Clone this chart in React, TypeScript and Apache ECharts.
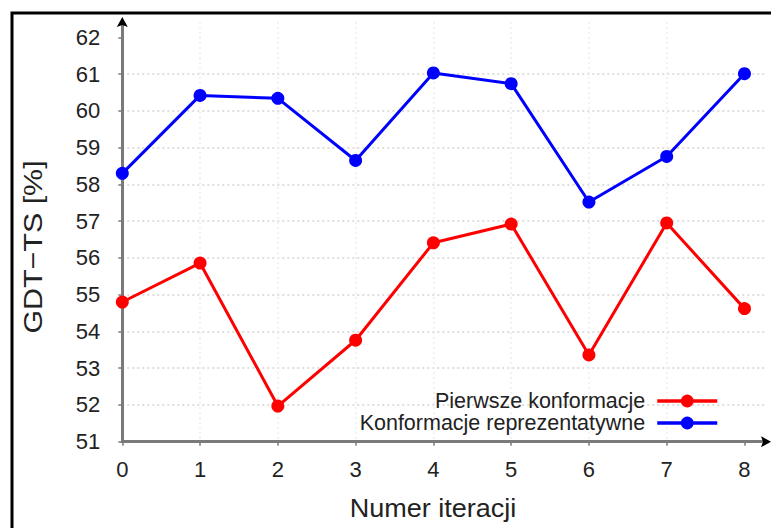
import React, { useEffect, useRef } from "react";
import * as echarts from "echarts";

const xTicks = [0, 1, 2, 3, 4, 5, 6, 7, 8];
const yTicks = [51, 52, 53, 54, 55, 56, 57, 58, 59, 60, 61, 62];
const seriesNames = ["Pierwsze konformacje", "Konformacje reprezentatywne"];
const pierwsze = [54.8, 55.86, 51.97, 53.76, 56.41, 56.92, 53.36, 56.95, 54.62];
const reprezentatywne = [58.3, 60.42, 60.34, 58.65, 61.03, 60.74, 57.52, 58.76, 61.01];
const xTitle = "Numer iteracji";
const yTitle = "GDT\u2212TS [%]";

const FONT = "'Liberation Sans', Arial, Helvetica, sans-serif";

export default function App() {
  const ref = useRef<HTMLDivElement>(null);
  useEffect(() => {
    if (!ref.current) return;
    const chart = echarts.init(ref.current, null, { renderer: "svg" });
    const gridLeft = 122.3;
    const gridTop = 22;
    const gridW = 642.7;
    const gridH = 419.7;
    const axisY = gridTop + gridH;
    const axisColor = "#7a7a7a";
    chart.setOption({
      animation: false,
      backgroundColor: "#fff",
      textStyle: { fontFamily: FONT },
      grid: { left: gridLeft, top: gridTop, width: gridW, height: gridH, containLabel: false },
      xAxis: {
        type: "value",
        min: 0,
        max: 8.264,
        interval: 1,
        axisLine: { show: true, lineStyle: { color: axisColor, width: 3 } },
        axisTick: { show: true, length: 4, customValues: xTicks, lineStyle: { color: axisColor, width: 1.5 } },
        axisLabel: { customValues: xTicks, margin: 17, fontSize: 22, color: "#222", fontFamily: FONT },
        splitLine: { show: true, showMaxLine: false, showMinLine: false, lineStyle: { color: "#eeeeee", width: 1.5, type: [2, 3] } },
      },
      yAxis: {
        type: "value",
        min: 51,
        max: 62.417,
        interval: 1,
        axisLine: { show: true, lineStyle: { color: axisColor, width: 3 } },
        axisTick: { show: true, length: 4, customValues: yTicks, lineStyle: { color: axisColor, width: 1.5 } },
        axisLabel: { customValues: yTicks, margin: 22, fontSize: 22, color: "#222", fontFamily: FONT },
        splitLine: { show: true, showMaxLine: false, showMinLine: false, lineStyle: { color: "#d4d4d4", width: 1.5, type: [2, 3] } },
      },
      legend: {
        orient: "vertical",
        align: "right",
        right: 47,
        top: 385,
        itemWidth: 60,
        itemHeight: 16,
        itemGap: 0,
        lineStyle: { width: 3.5 },
        textStyle: { fontSize: 21.5, lineHeight: 22, color: "#222", fontFamily: FONT, padding: [0, 7, 0, 0] },
        data: seriesNames,
      },
      series: [
        {
          name: seriesNames[0],
          type: "line",
          data: xTicks.map((x, i) => [x, pierwsze[i]]),
          symbol: "circle",
          symbolSize: 13,
          lineStyle: { color: "#ff0000", width: 3 },
          itemStyle: { color: "#ff0000" },
        },
        {
          name: seriesNames[1],
          type: "line",
          data: xTicks.map((x, i) => [x, reprezentatywne[i]]),
          symbol: "circle",
          symbolSize: 13,
          lineStyle: { color: "#0000ff", width: 3 },
          itemStyle: { color: "#0000ff" },
        },
      ],
      graphic: [
        {
          type: "rect",
          silent: true,
          z: 100,
          shape: { x: 12, y: 13, width: 800, height: 600 },
          style: { fill: "none", stroke: "#000", lineWidth: 3 },
        },
        {
          type: "polygon",
          silent: true,
          z: 100,
          shape: { points: [[gridLeft, 17], [gridLeft - 5.5, 27], [gridLeft, 25], [gridLeft + 5.5, 27]] },
          style: { fill: "#000" },
        },
        {
          type: "polygon",
          silent: true,
          z: 100,
          shape: { points: [[771, axisY], [761, axisY - 5.5], [763, axisY], [761, axisY + 5.5]] },
          style: { fill: "#000" },
        },
        {
          type: "text",
          silent: true,
          x: 433,
          y: 508,
          scaleX: 1.04,
          style: { text: xTitle, fontSize: 26, fontFamily: FONT, fill: "#222", align: "center", verticalAlign: "middle" },
        },
        {
          type: "text",
          silent: true,
          x: 33,
          y: 247,
          rotation: Math.PI / 2,
          scaleX: 1.17,
          style: { text: yTitle, fontSize: 26, fontFamily: FONT, fill: "#222", align: "center", verticalAlign: "middle" },
        },
      ],
    });
    return () => chart.dispose();
  }, []);
  return <div ref={ref} style={{ position: "absolute", left: 0, top: 0, width: 771, height: 528 }} />;
}
